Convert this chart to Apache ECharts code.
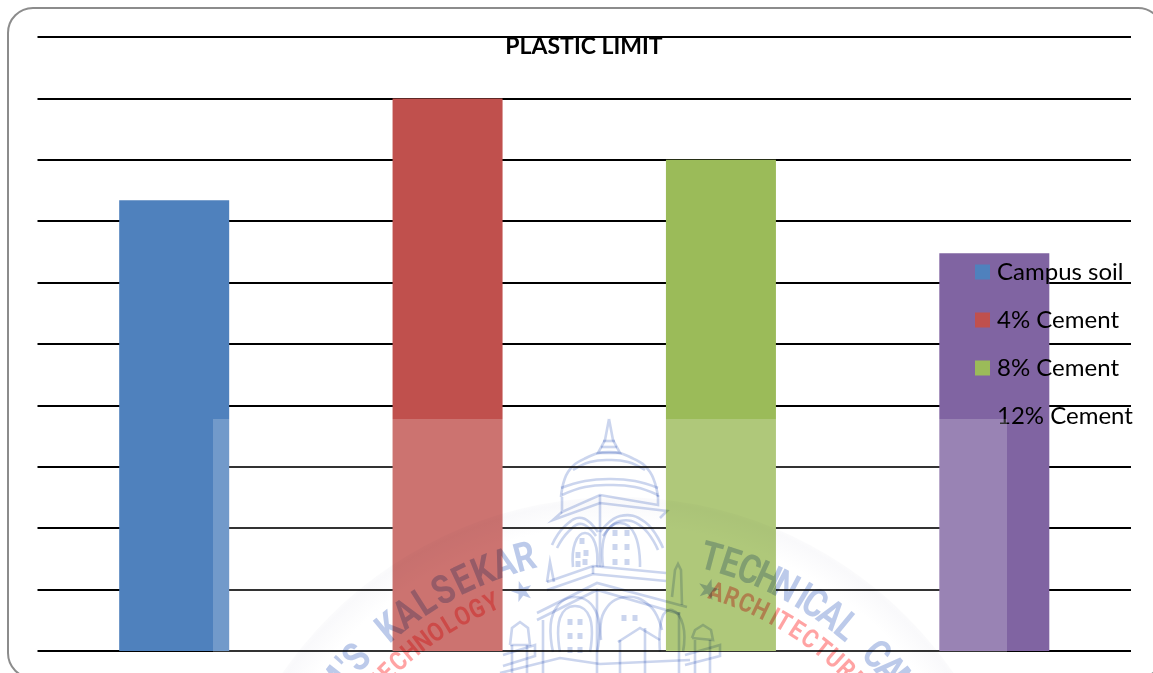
<!DOCTYPE html>
<html>
<head>
<meta charset="utf-8">
<style>html,body{margin:0;padding:0;background:#fff}#chart{width:1153px;height:673px}</style>
<script src="https://cdn.jsdelivr.net/npm/echarts@6/dist/echarts.min.js"></script>
</head>
<body>
<div id="chart"></div>
<script>
// Plastic limit of each soil mix
const categories = ['Campus soil', '4% Cement', '8% Cement', '12% Cement'];
const plasticLimit = [36.7, 45, 40, 32.4];
const barColors = ['#4F81BD', '#C0504D', '#9BBB59', '#8064A2'];
const chartTitle = 'PLASTIC LIMIT';

const series = categories.map((name, k) => ({
  name,
  type: 'bar',
  stack: 'limit',
  barWidth: 110,
  itemStyle: { color: barColors[k] },
  data: plasticLimit.map((v, i) => (i === k ? v : null))
}));

// College seal printed across the lower part of the page
const SEAL = { cx: 618, cy: 905 };
const BLUE = '#bccaea', RED = '#ffa3a3', LINE = '#cbd5ee';
const graphics = [];

// Rounded frame of the chart area
graphics.push({
  type: 'rect', silent: true, z: 1,
  shape: { x: 8, y: 8, width: 1155, height: 670, r: 25 },
  style: { fill: 'none', stroke: '#8c8c8c', lineWidth: 2 }
});
// Pale panel that carries the seal
graphics.push({
  type: 'rect', silent: true, z: 20,
  shape: { x: 213, y: 419, width: 794, height: 233 },
  style: { fill: 'rgba(255,255,255,0.2)' }
});
// Faint halo ring of the seal
graphics.push({
  type: 'circle', silent: true, z: 21,
  shape: { cx: SEAL.cx, cy: SEAL.cy, r: 408 },
  style: {
    blend: 'multiply',
    fill: {
      type: 'radial', x: 0.5, y: 0.5, r: 0.5,
      colorStops: [
        { offset: 0, color: '#ffffff' }, { offset: 0.93, color: '#ffffff' },
        { offset: 0.99, color: '#f9f9fb' }, { offset: 1, color: '#fbfbfc' }
      ]
    }
  }
});

// Places letters one by one around the seal's circle
function arcText(letters, startDeg, stepDeg, radius, size, color, squeeze) {
  let a = startDeg;
  for (const ch of letters) {
    if (ch !== ' ') {
      const t = a * Math.PI / 180;
      graphics.push({
        type: 'text', silent: true, z: 22,
        x: SEAL.cx + radius * Math.sin(t),
        y: SEAL.cy - radius * Math.cos(t),
        rotation: -t,
        scaleX: squeeze,
        style: {
          text: ch, fill: color,
          font: '700 ' + size + 'px Roboto,sans-serif',
          textAlign: 'center', textVerticalAlign: 'middle'
        }
      });
    }
    a += ch === 'I' || ch === "'" ? stepDeg * 0.65 : stepDeg;
  }
}
arcText("M'S", -52, 3.3, 357, 40, BLUE, 0.82);
arcText('KALSEKAR', -39.5, 3.5, 357, 40, BLUE, 0.82);
arcText('TECHNICAL CAMPUS', 15, 3.2, 357, 40, BLUE, 0.82);
arcText('TECHNOLOGY', -47.5, 2.75, 326, 26, RED, 0.85);
arcText('ARCHITECTURE', 17.5, 2.75, 326, 26, RED, 0.85);
arcText('★', -17, 0, 326, 24, BLUE, 1);
arcText('★', 16, 0, 326, 24, BLUE, 1);

// Outline of the domed building at the centre of the seal
const smoothOutlines = [
  [[561,497],[568,472],[586,458],[609,452],[632,458],[650,472],[658,497]],
  [[561,488],[585,481],[609,479],[635,481],[658,488]],
  [[562,495],[585,487],[609,485],[635,487],[658,495]],
  [[573,470],[590,462],[609,460],[628,462],[645,470]],
  [[573,567],[575,543],[585,533],[595,543],[597,567]],
  [[603,567],[605,535],[620,523],[635,535],[640,567]],
  [[552,545],[565,526],[582,518],[598,532]],
  [[557,548],[569,531],[582,524],[596,536]],
  [[600,532],[620,516],[645,522],[663,548]],
  [[603,536],[620,521],[642,527],[658,550]],
  [[560,652],[560,618],[575,606],[590,618],[590,652]],
  [[553,652],[553,614],[575,597],[597,614],[597,652]],
  [[601,640],[604,612],[625,597],[650,606],[662,630]],
  [[660,652],[662,618],[672,610],[683,625],[683,652]]
];
const straightOutlines = [
  [[609,419],[605,440],[598,453],[620,453],[613,440],[609,419]],
  [[603,441],[615,441]],[[601,447],[617,447]],
  [[562,497],[562,512],[600,495],[658,505],[658,495]],
  [[562,512],[553,520],[600,503],[667,511],[660,518]],
  [[600,495],[600,567]],
  [[547,582],[593,566],[666,573]],
  [[547,590],[593,574],[666,581]],
  [[537,613],[597,583],[687,607]],
  [[537,620],[597,590],[680,614]],
  [[547,582],[550,562],[554,582]],
  [[672,597],[675,570],[678,564],[681,570],[682,605]],
  [[597,590],[597,673]],
  [[593,566],[593,574]],
  [[543,620],[543,673]],
  [[679,612],[679,673]],
  [[510,645],[512,628],[520,622],[528,628],[530,645],[510,645]],
  [[503,655],[535,645],[535,656],[503,666]],
  [[512,645],[512,673]],[[527,645],[527,673]],
  [[692,638],[695,630],[703,625],[711,630],[713,640],[692,638]],
  [[685,655],[720,645],[720,656],[685,665]],
  [[695,640],[695,673]],[[710,640],[710,673]],
  [[620,640],[620,673]],[[645,628],[645,673]],
  [[618,642],[640,628],[660,640]],
  [[500,673],[560,658],[600,664],[690,660]]
];
smoothOutlines.forEach(pts => graphics.push({
  type: 'polyline', silent: true, z: 22,
  shape: { points: pts, smooth: 0.45 },
  style: { fill: 'none', stroke: LINE, lineWidth: 2.6, blend: 'multiply' }
}));
straightOutlines.forEach(pts => graphics.push({
  type: 'polyline', silent: true, z: 22,
  shape: { points: pts },
  style: { fill: 'none', stroke: LINE, lineWidth: 2.6, blend: 'multiply' }
}));
// Window panes of the building
const panes = [
  [582,541],[586,553],[578,555],[585,562],[578,564],
  [615,533],[627,533],[615,547],[627,547],[615,562],[627,562],
  [570,622],[580,622],[570,636],[580,636],[570,650],[580,650],
  [624,618],[635,618]
];
panes.forEach(p => graphics.push({
  type: 'rect', silent: true, z: 22,
  shape: { x: p[0] - 2.5, y: p[1] - 3, width: 5, height: 6 },
  style: { fill: LINE, blend: 'multiply' }
}));

const chart = echarts.init(document.getElementById('chart'), null, { renderer: 'canvas' });
chart.setOption({
  animation: false,
  backgroundColor: '#ffffff',
  title: {
    text: chartTitle, left: 579, top: 30, textAlign: 'center',
    textStyle: { fontFamily: 'Lato', fontWeight: 700, fontSize: 23, color: '#000' }
  },
  legend: {
    orient: 'vertical', left: 975, top: 260, padding: 0,
    icon: 'rect', itemWidth: 15, itemHeight: 15, itemGap: 24,
    data: categories,
    selectedMode: false,
    textStyle: { fontFamily: 'Lato', fontSize: 24, color: '#000', lineHeight: 24, padding: [0, 0, 0, 2] }
  },
  grid: { left: 37.5, right: 22, top: 37, bottom: 22 },
  xAxis: {
    type: 'category', data: categories,
    axisLine: { show: false }, axisTick: { show: false }, axisLabel: { show: false }
  },
  yAxis: {
    type: 'value', min: 0, max: 50, interval: 5,
    axisLine: { show: false }, axisTick: { show: false }, axisLabel: { show: false },
    splitLine: { show: true, lineStyle: { color: '#000', width: 2 } }
  },
  series,
  graphic: { elements: graphics }
});

// The seal's lettering soaks into the bars like ink, so its glyph spans blend too
const zr = chart.getZr();
zr.storage.getDisplayList(true).forEach(el => {
  if (el.type === 'tspan' && el.z === 22) {
    el.style.blend = 'multiply';
    el.dirty();
  }
});
zr.refreshImmediately();
</script>
</body>
</html>
